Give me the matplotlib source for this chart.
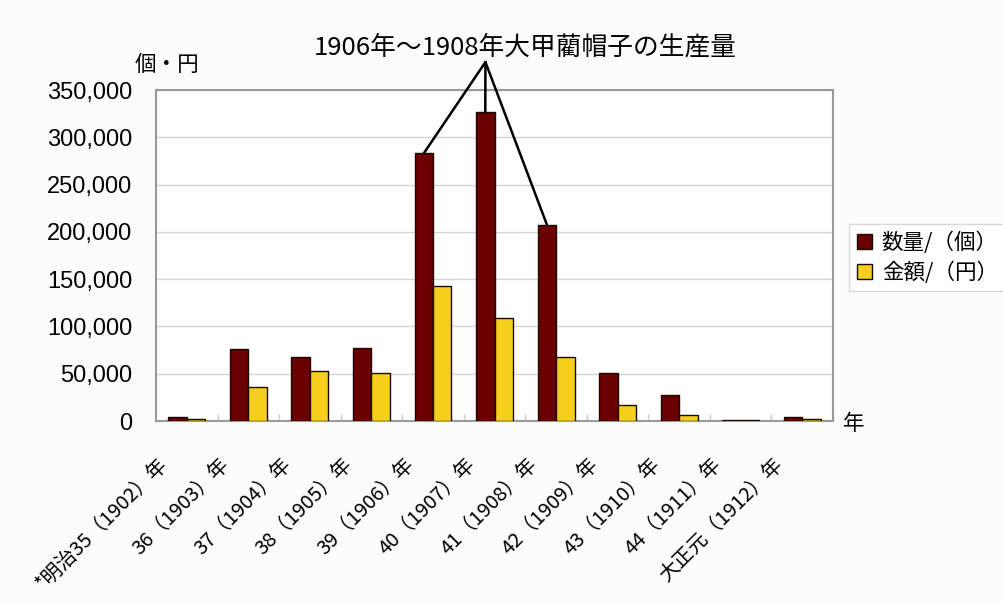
import matplotlib
matplotlib.use("Agg")
import matplotlib.pyplot as plt
from matplotlib.transforms import ScaledTranslation
import numpy as np

plt.rcParams['font.family'] = ['Noto Sans CJK JP', 'DejaVu Sans']

# 大甲藺帽子の生産量（明治35年〜大正元年）
years = ["*明治35（1902）年", "36（1903）年", "37（1904）年", "38（1905）年",
         "39（1906）年", "40（1907）年", "41（1908）年", "42（1909）年",
         "43（1910）年", "44（1911）年", "大正元（1912）年"]
quantity = [4000, 75800, 68000, 77200, 283000, 326500, 207800, 51000, 27300, 1500, 4000]
amount = [2000, 35600, 53200, 51100, 142300, 108700, 67300, 17000, 6400, 800, 1800]
series_names = ["数量/（個）", "金額/（円）"]
yticks = [0, 50000, 100000, 150000, 200000, 250000, 300000, 350000]
title = "1906年～1908年大甲藺帽子の生産量"
highlight = [4, 5, 6]   # 1906〜1908

red = "#6b0000"
yellow = "#f6cf1c"

fig = plt.figure(figsize=(10.04, 6.03), dpi=100, facecolor="#fcfcfc")
ax = fig.add_axes([0.1554, 0.3018, 0.6743, 0.5489])
ax.set_facecolor("white")

x = np.arange(len(years))
w = 0.3
ax.bar(x - w / 2, quantity, w, color=red, edgecolor="#1a0a00", linewidth=1.0,
       label=series_names[0], zorder=3)
ax.bar(x + w / 2, amount, w, color=yellow, edgecolor="#1a0a00", linewidth=1.0,
       label=series_names[1], zorder=3)

ax.set_xlim(-0.5, len(years) - 0.5)
ax.set_ylim(0, 350000)
ax.set_yticks(yticks)
ax.set_yticklabels([f"{v:,}" for v in yticks], fontfamily="Liberation Sans", fontsize=17)
ax.tick_params(axis="y", length=0, pad=17)
ax.grid(axis="y", color="#d4d4d4", linewidth=1.0, zorder=0)

# category labels, slanted
ax.set_xticks(x)
ax.set_xticklabels(years, rotation=45, ha="right", va="center",
                   rotation_mode="anchor", fontsize=14.5)
ax.tick_params(axis="x", which="major", length=0, pad=29)
shift = ScaledTranslation(-22 / 100, 0, fig.dpi_scale_trans)
for lab in ax.get_xticklabels():
    lab.set_transform(lab.get_transform() + shift)

# small separators between categories
ax.set_xticks(np.arange(-0.5, len(years), 1.0), minor=True)
ax.tick_params(axis="x", which="minor", direction="in", length=5, color="#c8c8c8", width=1)

for s in ax.spines.values():
    s.set_color("#9a9a9a")
    s.set_linewidth(1.5)

# axis unit labels
fig.text(0.134, 0.892, "個・円", fontsize=15.5, ha="left", va="center")
fig.text(0.850, 0.297, "年", fontsize=15.5, ha="center", va="center")

# title with pointer lines to the highlighted bars
fig.text(0.523, 0.922, title, fontsize=18.5, ha="center", va="center")
apex = (0.4835, 0.897)
for i in highlight:
    ax.annotate("", xy=(x[i] - w / 2, quantity[i]), xycoords="data",
                xytext=apex, textcoords="figure fraction",
                arrowprops=dict(arrowstyle="-", color="black", linewidth=1.8,
                                shrinkA=0, shrinkB=0), zorder=5)

leg = ax.legend(loc="lower left", bbox_to_anchor=(0.846, 0.517),
                bbox_transform=fig.transFigure, fontsize=15.5, frameon=True,
                fancybox=False, edgecolor="#d0d0d0", handlelength=0.7,
                handleheight=0.7, handletextpad=0.45, borderpad=0.35,
                labelspacing=0.35, borderaxespad=0)
leg.get_frame().set_linewidth(1.0)

fig.savefig("out.png", dpi=100, facecolor=fig.get_facecolor())
